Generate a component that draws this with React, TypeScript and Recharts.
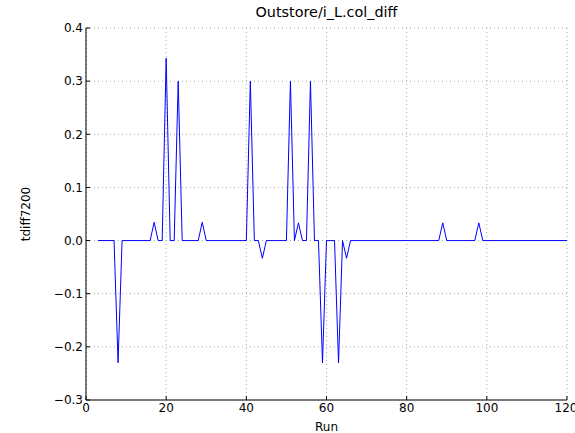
import { CartesianGrid, Line, LineChart, XAxis, YAxis } from "recharts";

// run numbers, rows of ten
const runs = [
  3, 4, 5, 6, 7, 8, 9, 10, 11, 12,
  13, 14, 15, 16, 17, 18, 19, 20, 21, 22,
  23, 24, 25, 26, 27, 28, 29, 30, 31, 32,
  33, 34, 35, 36, 37, 38, 39, 40, 41, 42,
  43, 44, 45, 46, 47, 48, 49, 50, 51, 52,
  53, 54, 55, 56, 57, 58, 59, 60, 61, 62,
  63, 64, 65, 66, 67, 68, 69, 70, 71, 72,
  73, 74, 75, 76, 77, 78, 79, 80, 81, 82,
  83, 84, 85, 86, 87, 88, 89, 90, 91, 92,
  93, 94, 95, 96, 97, 98, 99, 100, 101, 102,
  103, 104, 105, 106, 107, 108, 109, 110, 111, 112,
  113, 114, 115, 116, 117, 118, 119, 120,
];

const tdiff7200 = [
  0, 0, 0, 0, 0, -0.23, 0, 0, 0, 0,
  0, 0, 0, 0, 0.0345, 0, 0, 0.343, 0, 0,
  0.3, 0, 0, 0, 0, 0, 0.0345, 0, 0, 0,
  0, 0, 0, 0, 0, 0, 0, 0, 0.3, 0,
  0, -0.0333, 0, 0, 0, 0, 0, 0, 0.3, 0,
  0.0333, 0, 0, 0.3, 0, 0, -0.23, 0, 0, 0,
  -0.23, 0, -0.0333, 0, 0, 0, 0, 0, 0, 0,
  0, 0, 0, 0, 0, 0, 0, 0, 0, 0,
  0, 0, 0, 0, 0, 0, 0.0333, 0, 0, 0,
  0, 0, 0, 0, 0, 0.0333, 0, 0, 0, 0,
  0, 0, 0, 0, 0, 0, 0, 0, 0, 0,
  0, 0, 0, 0, 0, 0, 0, 0,
];

const xTicks = [0, 20, 40, 60, 80, 100, 120];
const yTicks = [-0.3, -0.2, -0.1, 0, 0.1, 0.2, 0.3, 0.4];

const data = runs.map((run, i) => ({ run, value: tdiff7200[i] }));

const fmtY = (v: number) => v.toFixed(1).replace("-", "\u2212");
const blank = () => "";

export default function App() {
  const font = { fill: "#000", fontSize: 12, fontFamily: "DejaVu Sans" };
  return (
    <div style={{ position: "absolute", left: 0, top: 0, width: 575, height: 433, fontFamily: "DejaVu Sans" }}>
      <div
        style={{
          position: "absolute",
          top: 5,
          left: 86,
          width: 481,
          textAlign: "center",
          fontSize: 14.4,
          lineHeight: "14.4px",
          color: "#000",
        }}
      >
        Outstore/i_L.col_diff
      </div>
      <LineChart width={575} height={433} data={data} margin={{ top: 28, right: 8, bottom: 0, left: 26 }}>
        <CartesianGrid stroke="#a8a8a8" strokeWidth={1} strokeDasharray="1 3" />
        <XAxis
          dataKey="run"
          type="number"
          domain={[0, 120]}
          ticks={xTicks}
          height={33}
          stroke="#000"
          tickSize={-4}
          tickMargin={7}
          tick={font}
          label={{ value: "Run", position: "insideBottom", offset: 2, style: { ...font } }}
        />
        <XAxis
          xAxisId="top"
          orientation="top"
          type="number"
          domain={[0, 120]}
          ticks={xTicks}
          height={0}
          stroke="#000"
          tickSize={-4}
          tickFormatter={blank}
        />
        <YAxis
          type="number"
          domain={[-0.3, 0.4]}
          ticks={yTicks}
          width={60}
          stroke="#000"
          tickSize={-4}
          tickMargin={7}
          tick={font}
          tickFormatter={fmtY}
          label={{
            value: "tdiff7200",
            angle: -90,
            position: "insideLeft",
            offset: 0,
            style: { ...font, textAnchor: "middle" },
          }}
        />
        <YAxis
          yAxisId="right"
          orientation="right"
          type="number"
          domain={[-0.3, 0.4]}
          ticks={yTicks}
          width={0}
          stroke="#000"
          tickSize={-4}
          tickFormatter={blank}
        />
        <Line
          type="linear"
          dataKey="value"
          stroke="#0000ff"
          strokeWidth={1}
          dot={false}
          isAnimationActive={false}
        />
      </LineChart>
    </div>
  );
}
